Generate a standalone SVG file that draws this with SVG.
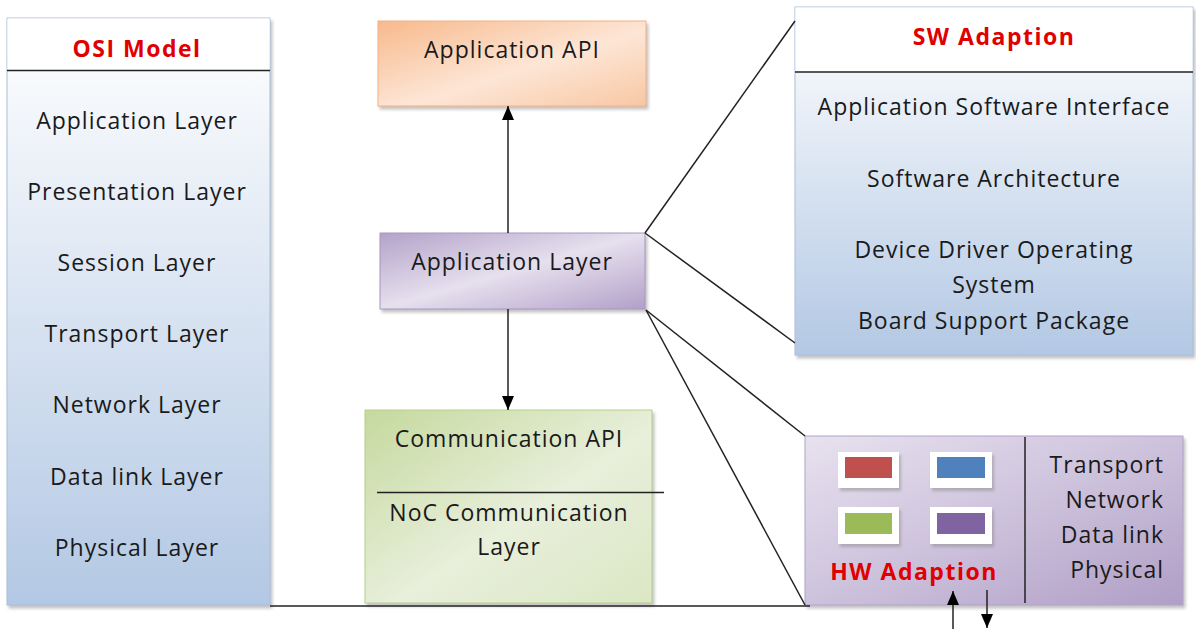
<svg xmlns="http://www.w3.org/2000/svg" width="1196" height="629" viewBox="0 0 1196 629">
<defs>
<linearGradient id="gBlue" x1="0" y1="0" x2="0" y2="1"><stop offset="0" stop-color="#ffffff"/><stop offset="1" stop-color="#b3c8e4"/></linearGradient>
<linearGradient id="gOrange" x1="0" y1="0" x2="1" y2="1"><stop offset="0" stop-color="#f7b98c"/><stop offset="0.55" stop-color="#fde6d6"/><stop offset="1" stop-color="#f8c7a3"/></linearGradient>
<linearGradient id="gPurple" x1="0" y1="0" x2="1" y2="1"><stop offset="0" stop-color="#b3a2c9"/><stop offset="0.5" stop-color="#e6e0ee"/><stop offset="1" stop-color="#b2a0c8"/></linearGradient>
<linearGradient id="gPurple2" x1="0" y1="0" x2="1" y2="1"><stop offset="0" stop-color="#e8e2ef"/><stop offset="0.5" stop-color="#cdc2dc"/><stop offset="1" stop-color="#b09ec6"/></linearGradient>
<linearGradient id="gGreen" x1="0" y1="0" x2="1" y2="1"><stop offset="0" stop-color="#c5d99e"/><stop offset="0.55" stop-color="#e8efdb"/><stop offset="1" stop-color="#dbe7c4"/></linearGradient>
<filter id="sh" x="-5%" y="-5%" width="115%" height="115%"><feDropShadow dx="2" dy="3" stdDeviation="1.5" flood-color="#888" flood-opacity="0.5"/></filter>
<marker id="ah" viewBox="0 0 14 12" refX="14" refY="6" markerWidth="14" markerHeight="12" markerUnits="userSpaceOnUse" orient="auto"><path d="M0,0 L14,6 L0,12 z" fill="#000"/></marker>
</defs>
<style>
text{font-family:"Open Sans",Lato,sans-serif;font-size:23px;letter-spacing:1px;fill:#1a1a1a;}
.c{text-anchor:middle;}
.r{text-anchor:end;}
.t{font-weight:bold;fill:#e00000;letter-spacing:1.5px;}
.box{stroke:#a9bfdc;stroke-width:1;}
.ln{stroke:#222;stroke-width:1.5;fill:none;}
</style>
<rect width="1196" height="629" fill="#fff"/>
<g id="osi">
<rect x="7" y="18" width="263" height="587" fill="url(#gBlue)" class="box" filter="url(#sh)"/>
<rect x="7.5" y="18.5" width="262" height="52" fill="#fff"/>
<line x1="7" y1="70.5" x2="270" y2="70.5" stroke="#222" stroke-width="1.5"/>
<text x="137" y="57" class="c t">OSI Model</text>
<text x="137" y="129" class="c">Application Layer</text>
<text x="137" y="200" class="c">Presentation Layer</text>
<text x="137" y="271" class="c">Session Layer</text>
<text x="137" y="342" class="c">Transport Layer</text>
<text x="137" y="413" class="c">Network Layer</text>
<text x="137" y="485" class="c">Data link Layer</text>
<text x="137" y="556" class="c">Physical Layer</text>
</g>
<g id="appapi">
<rect x="378" y="21" width="268" height="85" fill="url(#gOrange)" stroke="#f4b183" filter="url(#sh)"/>
<text x="512" y="58" class="c">Application API</text>
</g>
<g id="applayer">
<rect x="380" y="233" width="265" height="76" fill="url(#gPurple)" stroke="#a898c0" filter="url(#sh)"/>
<text x="512" y="270" class="c">Application Layer</text>
</g>
<g id="comm">
<rect x="365" y="410" width="287" height="193" fill="url(#gGreen)" stroke="#b8cf8c" filter="url(#sh)"/>
<line x1="377" y1="492.5" x2="664" y2="492.5" stroke="#222" stroke-width="1.5"/>
<text x="509" y="447" class="c">Communication API</text>
<text x="509" y="521" class="c">NoC Communication</text>
<text x="509" y="555" class="c">Layer</text>
</g>
<g id="sw">
<rect x="795" y="7" width="398" height="348" fill="url(#gBlue)" class="box" filter="url(#sh)"/>
<rect x="795.5" y="7.5" width="397" height="64" fill="#fff"/>
<line x1="795" y1="72" x2="1193" y2="72" stroke="#222" stroke-width="1.5"/>
<text x="994" y="45" class="c t">SW Adaption</text>
<text x="994" y="115" class="c">Application Software Interface</text>
<text x="994" y="187" class="c">Software Architecture</text>
<text x="994" y="258" class="c">Device Driver Operating</text>
<text x="994" y="293" class="c">System</text>
<text x="994" y="329" class="c">Board Support Package</text>
</g>
<g id="hw">
<rect x="805" y="436" width="378" height="169" fill="url(#gPurple2)" stroke="#b3a3c9" filter="url(#sh)"/>
<line x1="1025" y1="437" x2="1025" y2="603" stroke="#222" stroke-width="1.5"/>
<g filter="url(#sh)">
<rect x="838" y="452" width="61" height="36" fill="#fff"/>
<rect x="930" y="452" width="62" height="36" fill="#fff"/>
<rect x="838" y="507" width="61" height="37" fill="#fff"/>
<rect x="930" y="507" width="62" height="37" fill="#fff"/>
</g>
<rect x="845" y="457" width="47" height="21" fill="#c0504d"/>
<rect x="937" y="457" width="48" height="21" fill="#4f81bd"/>
<rect x="845" y="513" width="47" height="21" fill="#9bbb59"/>
<rect x="937" y="513" width="48" height="21" fill="#8064a2"/>
<text x="914" y="580" class="c t">HW Adaption</text>
<text x="1164" y="473" class="r">Transport</text>
<text x="1164" y="508" class="r">Network</text>
<text x="1164" y="543" class="r">Data link</text>
<text x="1164" y="578" class="r">Physical</text>
</g>
<g id="connectors">
<line class="ln" x1="508" y1="233" x2="508" y2="106" marker-end="url(#ah)"/>
<line class="ln" x1="508" y1="309" x2="508" y2="410" marker-end="url(#ah)"/>
<line class="ln" x1="645" y1="233" x2="795" y2="21"/>
<line class="ln" x1="645" y1="233" x2="795" y2="343"/>
<line class="ln" x1="646" y1="310" x2="805" y2="436"/>
<line class="ln" x1="646" y1="310" x2="805" y2="605"/>
<line class="ln" x1="270" y1="606" x2="810" y2="606"/>
<line class="ln" x1="953" y1="629" x2="953" y2="591" marker-end="url(#ah)"/>
<line class="ln" x1="987" y1="590" x2="987" y2="628" marker-end="url(#ah)"/>
</g>
</svg>
